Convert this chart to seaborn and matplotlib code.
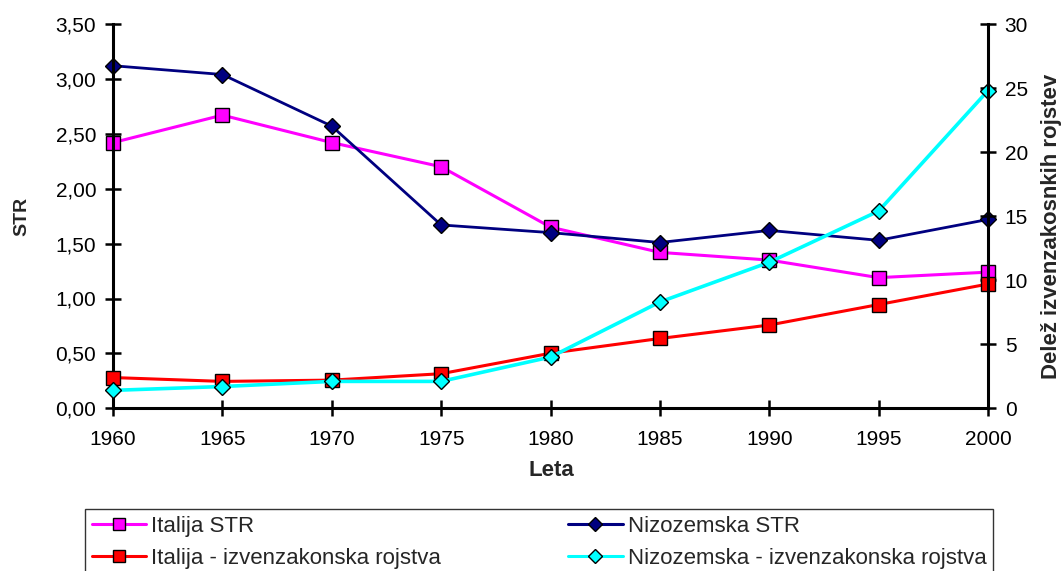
import matplotlib
matplotlib.use('Agg')
import matplotlib.pyplot as plt
import seaborn as sns
import pandas as pd
from matplotlib.ticker import FuncFormatter, MultipleLocator
from matplotlib.lines import Line2D

years = [1960, 1965, 1970, 1975, 1980, 1985, 1990, 1995, 2000]
italija_str = [2.42, 2.67, 2.42, 2.20, 1.65, 1.42, 1.35, 1.19, 1.24]
nizozemska_str = [3.12, 3.04, 2.57, 1.67, 1.60, 1.51, 1.62, 1.53, 1.72]
italija_izv = [2.4, 2.1, 2.2, 2.7, 4.3, 5.45, 6.5, 8.1, 9.7]
nizozemska_izv = [1.4, 1.7, 2.1, 2.1, 4.0, 8.3, 11.4, 15.4, 24.8]

labels = ["Italija STR", "Nizozemska STR",
          "Italija - izvenzakonska rojstva", "Nizozemska - izvenzakonska rojstva"]

sns.set_style("white")
plt.rcParams['font.family'] = ['Liberation Sans', 'DejaVu Sans']

fig = plt.figure(figsize=(10.61, 5.71), dpi=100)
ax = fig.add_axes([113/1061, 1-408.3/571, (988-113)/1061, (408.3-24)/571])
ax2 = ax.twinx()

def draw(axis, y, color, marker, ms, lw):
    sns.lineplot(x=years, y=y, ax=axis, color=color, linewidth=lw, marker=marker,
                 markersize=ms, markeredgecolor='black', markeredgewidth=1.0,
                 clip_on=False, legend=False)

draw(ax, italija_str, '#FF00FF', 's', 10, 2.2)
draw(ax, nizozemska_str, '#000080', 'D', 8, 2.0)
draw(ax2, italija_izv, '#FF0000', 's', 10, 2.2)
draw(ax2, nizozemska_izv, '#00FFFF', 'D', 8, 2.6)

ax.set_xlim(1960, 2000)
ax.set_ylim(0, 3.5)
ax2.set_ylim(0, 30)
ax.xaxis.set_major_locator(MultipleLocator(5))
ax.yaxis.set_major_locator(MultipleLocator(0.5))
ax2.yaxis.set_major_locator(MultipleLocator(5))
ax.yaxis.set_major_formatter(FuncFormatter(lambda v, p: f"{v:.2f}".replace('.', ',')))

for a in (ax, ax2):
    a.grid(False)
    a.set_facecolor('none')
    for s in a.spines.values():
        s.set_visible(False)
ax.spines['left'].set_visible(True)
ax.spines['bottom'].set_visible(True)
ax2.spines['right'].set_visible(True)
for s in (ax.spines['left'], ax.spines['bottom'], ax2.spines['right']):
    s.set_color('black')
    s.set_linewidth(2.2)

ax.tick_params(axis='both', direction='inout', length=11, width=1.8, color='black',
               labelsize=15, labelcolor='black', left=True, bottom=True)
ax.tick_params(axis='x', pad=10)
ax.tick_params(axis='y', pad=6.5)
ax2.tick_params(axis='y', direction='inout', length=11, width=1.8, color='black',
                labelsize=15, labelcolor='black', right=True, pad=6.5)

ax.set_xlabel("")
ax.set_ylabel("")
ax2.set_ylabel("")
fig.text(22/1061, 1-216/571, "STR", rotation=90, ha='center', va='center',
         fontsize=14, fontweight='bold')
fig.text(1052/1061, 1-226/571, "Delež izvenzakosnkih rojstev", rotation=90,
         ha='center', va='center', fontsize=16, fontweight='bold')
fig.text(551/1061, 1-470/571, "Leta", ha='center', va='center',
         fontsize=16, fontweight='bold')

handles = [
    Line2D([], [], color='#FF00FF', lw=2.2, marker='s', ms=9, mec='black', mew=1),
    Line2D([], [], color='#000080', lw=2.2, marker='D', ms=7, mec='black', mew=1),
    Line2D([], [], color='#FF0000', lw=2.2, marker='s', ms=9, mec='black', mew=1),
    Line2D([], [], color='#00FFFF', lw=2.2, marker='D', ms=7, mec='black', mew=1),
]
order = [0, 2, 1, 3]
leg = fig.legend([handles[i] for i in order], [labels[i] for i in order],
                 ncol=2, loc='upper left',
                 bbox_to_anchor=(85/1061, 1-509/571, 908/1061, 0.0001),
                 mode='expand', fontsize=16, handlelength=2.45, handletextpad=0.22,
                 borderaxespad=0, frameon=True, fancybox=False, labelspacing=0.5,
                 borderpad=0.3)
leg.get_frame().set_edgecolor('black')
leg.get_frame().set_linewidth(1.0)

fig.savefig('out.png', dpi=100)
